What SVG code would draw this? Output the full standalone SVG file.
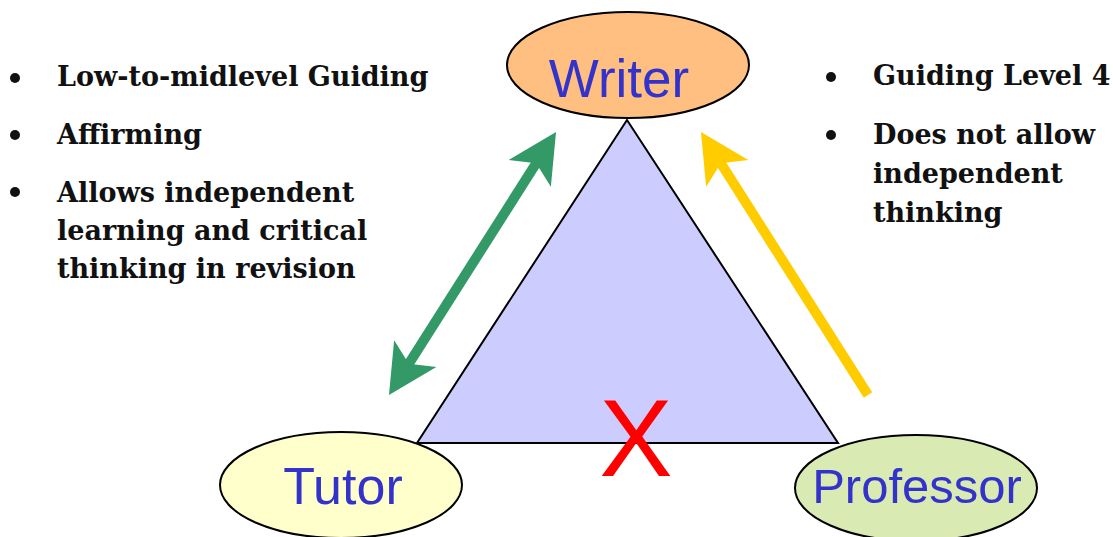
<svg xmlns="http://www.w3.org/2000/svg" width="1113" height="537" viewBox="0 0 1113 537">
<style>
.node{stroke:#000;stroke-width:2}
.lbl{font-family:"Liberation Sans",Arial,sans-serif;fill:#3333CC;text-anchor:middle}
.bul{font-family:"DejaVu Serif","Liberation Serif",serif;font-weight:bold;font-size:27px;fill:#111}
.dot{fill:#111}
</style>
<defs>
<marker id="hg" markerUnits="userSpaceOnUse" markerWidth="60" markerHeight="60" viewBox="-55 -30 60 60" refX="-20" refY="0" orient="auto-start-reverse">
<path d="M0,0 L-49,-25 L-37,0 L-49,25 Z" fill="#339966"/>
</marker>
<marker id="hy" markerUnits="userSpaceOnUse" markerWidth="60" markerHeight="60" viewBox="-55 -30 60 60" refX="-20" refY="0" orient="auto">
<path d="M0,0 L-49,-25 L-37,0 L-49,25 Z" fill="#FFCC00"/>
</marker>
</defs>
<rect width="1113" height="537" fill="#fff"/>
<g id="triangle">
<polygon points="627,120 417,443 838,443" fill="#CCCCFF" stroke="#000" stroke-width="2"/>
</g>
<g id="connectors">
<line x1="399.7" y1="378.1" x2="545.3" y2="148.9" stroke="#339966" stroke-width="10" marker-start="url(#hg)" marker-end="url(#hg)"/>
<line x1="868" y1="395" x2="711.7" y2="148.9" stroke="#FFCC00" stroke-width="10" marker-end="url(#hy)"/>
</g>
<g id="writer">
<ellipse class="node" cx="628" cy="65" rx="121" ry="53" fill="#FFBF80"/>
<text class="lbl" x="619" y="97" font-size="53">Writer</text>
</g>
<g id="tutor">
<ellipse class="node" cx="341" cy="485" rx="121" ry="53" fill="#FFFFCC"/>
<text class="lbl" x="343" y="504" font-size="52">Tutor</text>
</g>
<g id="professor">
<ellipse class="node" cx="916" cy="488" rx="121" ry="53" fill="#D9EAB3"/>
<text class="lbl" x="917" y="503" font-size="49">Professor</text>
</g>
<g id="cross">
<text x="636" y="476" font-family="Liberation Sans,Arial,sans-serif" font-size="110" fill="#FF0000" text-anchor="middle">X</text>
</g>
<g id="left-notes">
<circle class="dot" cx="15" cy="78" r="5"/>
<text class="bul" x="57" y="86">Low-to-midlevel Guiding</text>
<circle class="dot" cx="15" cy="135" r="5"/>
<text class="bul" x="57" y="144">Affirming</text>
<circle class="dot" cx="15" cy="192" r="5"/>
<text class="bul" x="57" y="202">Allows independent</text>
<text class="bul" x="57" y="240">learning and critical</text>
<text class="bul" x="57" y="278">thinking in revision</text>
</g>
<g id="right-notes">
<circle class="dot" cx="831" cy="77" r="5"/>
<text class="bul" x="873" y="85">Guiding Level 4</text>
<circle class="dot" cx="831" cy="135" r="5"/>
<text class="bul" x="873" y="144">Does not allow</text>
<text class="bul" x="873" y="183">independent</text>
<text class="bul" x="873" y="222">thinking</text>
</g>
</svg>
